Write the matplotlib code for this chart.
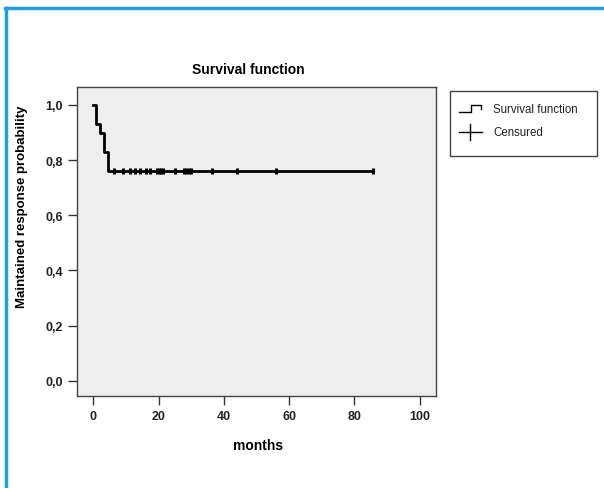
import matplotlib
matplotlib.use("Agg")
import matplotlib.pyplot as plt
from matplotlib.lines import Line2D
from matplotlib.patches import Rectangle

plt.rcParams['font.family'] = ['Liberation Sans', 'DejaVu Sans']

# Kaplan-Meier steps (months, survival)
step_times = [0.0, 0.8, 2.0, 3.4, 4.6, 85.6]
step_surv = [1.0, 0.931, 0.897, 0.828, 0.759, 0.759]

# censored observations (all on the final plateau)
censor_times = [6.2, 9.1, 11.3, 12.8, 14.4, 16.2, 17.4, 19.5, 20.0, 20.6, 21.2,
                25.1, 27.8, 28.5, 29.2, 30.0, 36.4, 44.0, 56.0, 85.6]
censor_surv = [0.759] * len(censor_times)

x_ticks = [0, 20, 40, 60, 80, 100]
y_ticks = [0.0, 0.2, 0.4, 0.6, 0.8, 1.0]
y_ticklabels = ['0,0', '0,2', '0,4', '0,6', '0,8', '1,0']

fig = plt.figure(figsize=(6.04, 4.89), dpi=100)
fig.patch.set_facecolor('white')

ax = fig.add_axes([0.1275, 0.1881, 0.5944, 0.6319])
ax.set_facecolor('#eeeeee')
for s in ax.spines.values():
    s.set_color('#444444')
    s.set_linewidth(1.0)

ax.step(step_times, step_surv, where='post', color='black', lw=2.0)
ax.plot(censor_times, censor_surv, linestyle='none', marker='|', ms=4.5,
        mew=2.2, color='black')

ax.set_xlim(-5, 105)
ax.set_ylim(-0.055, 1.065)
ax.set_xticks(x_ticks)
ax.set_yticks(y_ticks)
ax.set_yticklabels(y_ticklabels)
ax.tick_params(direction='out', length=6.5, width=1.0, color='#333333',
               labelsize=9, pad=3.5)
for lab in ax.get_xticklabels() + ax.get_yticklabels():
    lab.set_fontweight('bold')
    lab.set_color('#222222')

# titles placed in figure pixel positions
W, H = 604, 489
fig.text(248 / W, 1 - 70 / H, 'Survival function', ha='center', va='center',
         fontsize=10, fontweight='bold')
fig.text(258 / W, 1 - 446 / H, 'months', ha='center', va='center',
         fontsize=10, fontweight='bold')
fig.text(22 / W, 1 - 207 / H, 'Maintained response probability', ha='center',
         va='center', rotation=90, fontsize=9.5, fontweight='bold')

# overlay in pixel coordinates for frame and legend
ov = fig.add_axes([0, 0, 1, 1], zorder=5)
ov.set_xlim(0, W)
ov.set_ylim(H, 0)
ov.axis('off')
ov.patch.set_alpha(0)

blue = '#1ba1e2'
ov.add_line(Line2D([6, 6], [H, 9], color=blue, lw=2.5))
ov.add_line(Line2D([5, W], [9, 9], color=blue, lw=2.5))

ov.add_patch(Rectangle((450, 92), 147, 65, fill=False, edgecolor='#444444', lw=1.0))
# survival function icon
ov.add_line(Line2D([459, 471, 471, 481, 481], [113, 113, 106, 106, 110],
                   color='black', lw=1.0))
ov.text(493, 110, 'Survival function', fontsize=8.3, va='center', ha='left',
        color='#222222')
# censored icon
ov.add_line(Line2D([459, 482], [133, 133], color='black', lw=1.0))
ov.add_line(Line2D([470, 470], [125, 141], color='black', lw=1.0))
ov.text(493, 133, 'Censured', fontsize=8.3, va='center', ha='left',
        color='#222222')

fig.savefig('out.png', dpi=100)
